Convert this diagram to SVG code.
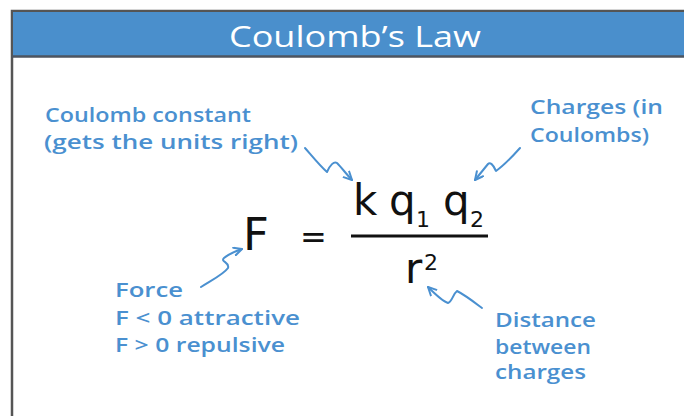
<svg xmlns="http://www.w3.org/2000/svg" width="684" height="416" viewBox="0 0 684 416">
<defs>
<style>
.note{font-family:"Open Sans","DejaVu Sans",sans-serif;font-size:20px;font-weight:600;fill:#4a90d0}
.math{font-family:"DejaVu Sans","Open Sans",sans-serif;fill:#111}
.conn{fill:none;stroke:#4a90d0;stroke-width:2;stroke-linecap:round;stroke-linejoin:round}
</style>
<marker id="ah" viewBox="0 0 10 10" refX="9" refY="5" markerWidth="10" markerHeight="10" markerUnits="userSpaceOnUse" orient="auto">
<path d="M1,1 L9,5 L1,9" fill="none" stroke="#4a90d0" stroke-width="2" stroke-linecap="round" stroke-linejoin="round"/>
</marker>
</defs>
<rect x="0" y="0" width="684" height="416" fill="#fff"/>
<g id="frame">
<rect x="12" y="11" width="680" height="420" fill="#fff" stroke="#555" stroke-width="2.5"/>
<rect x="13" y="12" width="680" height="44" fill="#4a8fcc"/>
<line x1="12" y1="56.5" x2="684" y2="56.5" stroke="#4d5560" stroke-width="2.5"/>
<text x="355" y="47" text-anchor="middle" font-family="Open Sans, DejaVu Sans, sans-serif" font-size="30" fill="#fff" textLength="252" lengthAdjust="spacingAndGlyphs">Coulomb’s Law</text>
</g>
<g id="formula">
<text class="math" x="243" y="250" font-size="45">F</text>
<text class="math" x="300" y="248" font-size="32">=</text>
<text class="math" x="353" y="215" font-size="42" font-weight="500">k</text>
<text class="math" x="389" y="215" font-size="42">q</text>
<text class="math" x="416" y="227" font-size="22">1</text>
<text class="math" x="443" y="215" font-size="42">q</text>
<text class="math" x="470" y="227" font-size="22">2</text>
<line x1="351" y1="236" x2="488" y2="236" stroke="#111" stroke-width="3"/>
<text class="math" x="405" y="283" font-size="42">r</text>
<text class="math" x="424" y="270" font-size="22">2</text>
</g>
<g id="coulomb-constant">
<text class="note" x="45" y="122" textLength="206" lengthAdjust="spacingAndGlyphs">Coulomb constant</text>
<text class="note" x="44" y="149" textLength="254" lengthAdjust="spacingAndGlyphs">(gets the units right)</text>
</g>
<g id="charges">
<text class="note" x="530" y="114" textLength="133" lengthAdjust="spacingAndGlyphs">Charges (in</text>
<text class="note" x="530" y="142" textLength="119" lengthAdjust="spacingAndGlyphs">Coulombs)</text>
</g>
<g id="force">
<text class="note" x="115" y="297" textLength="68" lengthAdjust="spacingAndGlyphs">Force</text>
<text class="note" x="115" y="325" textLength="185" lengthAdjust="spacingAndGlyphs">F &lt; 0 attractive</text>
<text class="note" x="115" y="352" textLength="170" lengthAdjust="spacingAndGlyphs">F &gt; 0 repulsive</text>
</g>
<g id="distance">
<text class="note" x="495" y="327" textLength="101" lengthAdjust="spacingAndGlyphs">Distance</text>
<text class="note" x="495" y="354" textLength="96" lengthAdjust="spacingAndGlyphs">between</text>
<text class="note" x="495" y="379" textLength="91" lengthAdjust="spacingAndGlyphs">charges</text>
</g>
<g id="connectors">
<path class="conn" marker-end="url(#ah)" d="M305,148 C312,156 320,166 327,172 C330,165 334,161 337,163 C342,168 347,175 352,180"/>
<path class="conn" marker-end="url(#ah)" d="M520,148 C512,157 503,166 496,171 C493,164 490,162 488,164 C484,169 479,175 475,180"/>
<path class="conn" marker-end="url(#ah)" d="M201,287 C212,280 224,274 228,268 C230,262 220,262 224,258 C229,254 236,251 242,249"/>
<path class="conn" marker-end="url(#ah)" d="M482,308 C474,302 465,295 457,291 C453,294 452,302 448,303 C442,301 434,293 428,287"/>
</g>
</svg>
